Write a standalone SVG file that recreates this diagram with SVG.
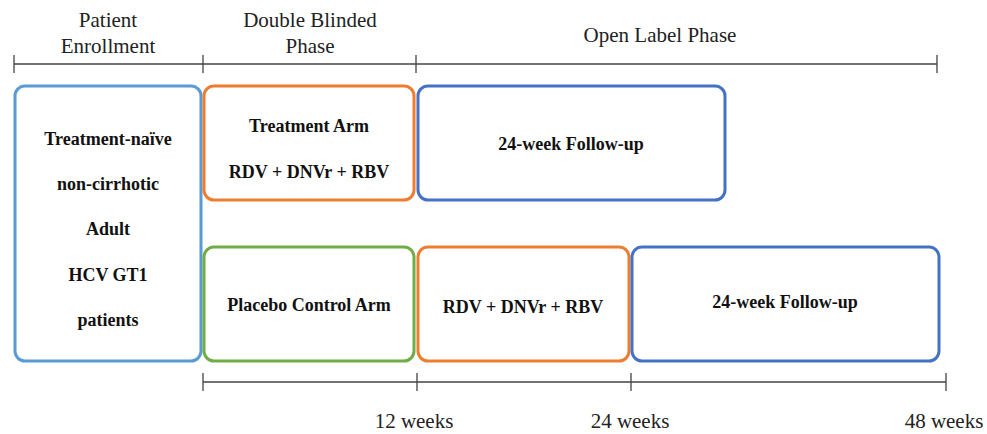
<svg xmlns="http://www.w3.org/2000/svg" width="987" height="434" viewBox="0 0 987 434">
<style>
text{font-family:'Liberation Serif','Times New Roman',serif;text-anchor:middle}
.hdr{font-size:21px;fill:#222}
.lbl{font-size:18px;font-weight:bold;fill:#111}
.box{fill:#fff;stroke-width:3}
.ax{stroke:#444;stroke-width:1.3;fill:none}
</style>
<rect width="987" height="434" fill="#fff"/>
<g id="axes">
<path class="ax" d="M14,64 H937 M14,55 V73 M203,55 V73 M416,55 V73 M937,55 V73"/>
<path class="ax" d="M203,382 H946 M203,373 V391 M417,373 V391 M631,373 V391 M946,373 V391"/>
</g>
<g id="headers">
<text class="hdr" x="108" y="27">Patient</text>
<text class="hdr" x="108" y="53">Enrollment</text>
<text class="hdr" x="310" y="27">Double Blinded</text>
<text class="hdr" x="310" y="53">Phase</text>
<text class="hdr" x="660" y="42">Open Label Phase</text>
<text class="hdr" x="414" y="428">12 weeks</text>
<text class="hdr" x="630" y="428">24 weeks</text>
<text class="hdr" x="944" y="428">48 weeks</text>
</g>
<g id="enrollment">
<rect class="box" x="15" y="86" width="186" height="275" rx="10" stroke="#5B9BD5"/>
<text class="lbl" x="108" y="145">Treatment-naïve</text>
<text class="lbl" x="108" y="190">non-cirrhotic</text>
<text class="lbl" x="108" y="235">Adult</text>
<text class="lbl" x="108" y="281">HCV GT1</text>
<text class="lbl" x="108" y="326">patients</text>
</g>
<g id="treatment-arm">
<rect class="box" x="204" y="86" width="210" height="114" rx="10" stroke="#ED7D31"/>
<text class="lbl" x="309" y="132">Treatment Arm</text>
<text class="lbl" x="309" y="178">RDV + DNVr + RBV</text>
</g>
<g id="placebo-arm">
<rect class="box" x="204" y="247" width="210" height="114" rx="10" stroke="#70AD47"/>
<text class="lbl" x="309" y="311">Placebo Control Arm</text>
</g>
<g id="followup-top">
<rect class="box" x="418" y="86" width="307" height="114" rx="10" stroke="#4472C4"/>
<text class="lbl" x="571" y="150">24-week Follow-up</text>
</g>
<g id="open-label-treatment">
<rect class="box" x="418" y="247" width="211" height="114" rx="10" stroke="#ED7D31"/>
<text class="lbl" x="523" y="313">RDV + DNVr + RBV</text>
</g>
<g id="followup-bottom">
<rect class="box" x="632" y="247" width="307" height="114" rx="10" stroke="#4472C4"/>
<text class="lbl" x="785" y="308">24-week Follow-up</text>
</g>
</svg>
